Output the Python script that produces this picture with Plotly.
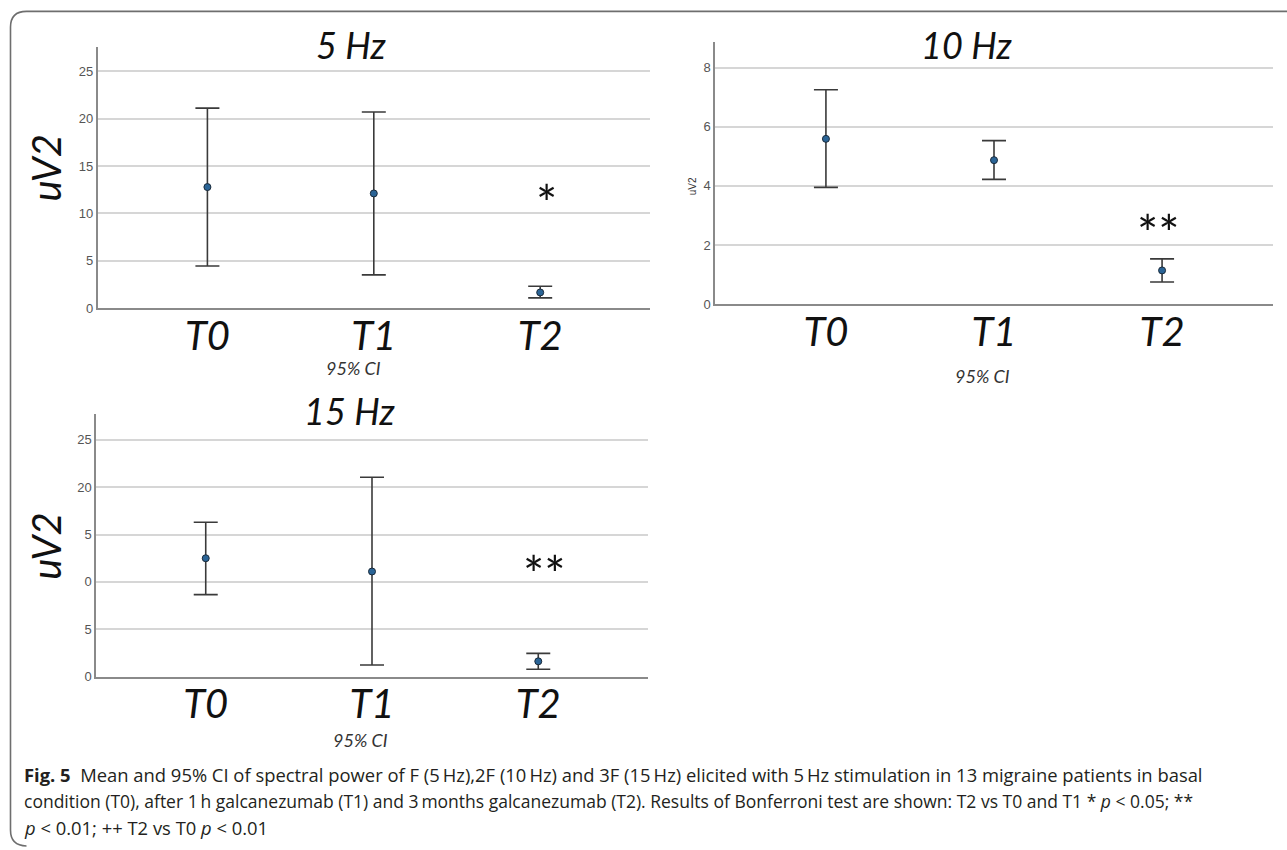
import plotly.graph_objects as go

W, H = 1287, 850

categories = ["T0", "T1", "T2"]

mean_5 = [12.77, 12.10, 1.65]
upper_5 = [21.10, 20.70, 2.30]
lower_5 = [4.44, 3.50, 1.08]

mean_10 = [5.59, 4.87, 1.14]
upper_10 = [7.25, 5.53, 1.53]
lower_10 = [3.95, 4.22, 0.75]

mean_15 = [12.50, 11.10, 1.61]
upper_15 = [16.30, 21.05, 2.45]
lower_15 = [8.66, 1.22, 0.77]

ticks_5 = [0, 5, 10, 15, 20, 25]
labels_5 = ["0", "5", "10", "15", "20", "25"]
ticks_10 = [0, 2, 4, 6, 8]
labels_10 = ["0", "2", "4", "6", "8"]
ticks_15 = [0, 5, 10, 15, 20, 25]
labels_15 = ["0", "5", "0", "5", "20", "25"]  # as printed (leading digits hidden)

sig_5 = "*"
sig_10 = "**"
sig_15 = "**"

caption_lines = [
    "<b>Fig. 5</b>  Mean and 95% CI of spectral power of F (5\u2009Hz),2F (10\u2009Hz) and 3F (15\u2009Hz) elicited with 5\u2009Hz stimulation in 13 migraine patients in basal",
    "condition (T0), after 1\u2009h galcanezumab (T1) and 3\u2009months galcanezumab (T2). Results of Bonferroni test are shown: T2 vs T0 and T1 * <i>p</i> < 0.05; **",
    "<i>p</i> < 0.01; ++ T2 vs T0 <i>p</i> < 0.01",
]
caption_sizes = [18.4, 17.5, 18.4]


def px(x):
    return x / W


def py(y):
    return 1 - y / H


CHART_FONT = "Lato"
TICK_FONT = "Liberation Sans Narrow, Liberation Sans, Arial"

fig = go.Figure()

panels = [
    ("x", "y", mean_5, upper_5, lower_5),
    ("x2", "y2", mean_10, upper_10, lower_10),
    ("x3", "y3", mean_15, upper_15, lower_15),
]
for xa, ya, m, u, l in panels:
    fig.add_trace(go.Scatter(
        x=categories, y=m, xaxis=xa, yaxis=ya, mode="markers",
        marker=dict(size=7, color="#2a6496", line=dict(color="#1a2a3a", width=1)),
        error_y=dict(type="data", symmetric=False,
                     array=[ui - mi for ui, mi in zip(u, m)],
                     arrayminus=[mi - li for mi, li in zip(m, l)],
                     color="#3a3a3a", thickness=1.6, width=12),
        showlegend=False, cliponaxis=False,
    ))

xcommon = dict(type="category", range=[-0.66, 2.66], showgrid=False, zeroline=False,
               showline=True, linecolor="#8a8a8a", linewidth=1.5, ticks="",
               ticklabelstandoff=-8,
               tickfont=dict(family=CHART_FONT, size=40, color="#111", style="italic"),
               fixedrange=True)
ycommon = dict(showgrid=True, gridcolor="#d6d6d6", gridwidth=1.5, zeroline=False,
               showline=True, linecolor="#8a8a8a", linewidth=1.5, ticks="",
               tickfont=dict(family=TICK_FONT, size=13, color="#555"),
               fixedrange=True)

fig.update_layout(
    width=W, height=H,
    margin=dict(l=0, r=0, t=0, b=0),
    paper_bgcolor="white", plot_bgcolor="white",
    xaxis=dict(xcommon, domain=[px(97.6), px(650)], anchor="y"),
    yaxis=dict(ycommon, domain=[py(311), py(47)], anchor="x", range=[0, 27.6],
               tickvals=ticks_5, ticktext=labels_5),
    xaxis2=dict(xcommon, domain=[px(715), px(1273)], anchor="y2"),
    yaxis2=dict(ycommon, domain=[py(307), py(42.3)], anchor="x2", range=[0, 8.87],
                tickvals=ticks_10, ticktext=labels_10),
    xaxis3=dict(xcommon, domain=[px(96), px(683.5 - 35.5)], anchor="y3"),
    yaxis3=dict(ycommon, domain=[py(683), py(418.3)], anchor="x3", range=[0, 27.7],
                tickvals=ticks_15, ticktext=labels_15),
)

ann = []


def text(x, y, s, size, family=CHART_FONT, italic=True, angle=0, color="#111",
         xanchor="center", yanchor="middle"):
    ann.append(dict(x=px(x), y=py(y), xref="paper", yref="paper", text=s,
                    showarrow=False, textangle=angle, xanchor=xanchor, yanchor=yanchor,
                    font=dict(family=family, size=size, color=color,
                              style="italic" if italic else "normal")))


# titles
text(351, 45, "5 Hz", 36)
text(966, 45, "10 Hz", 36)
text(349, 415, "15 Hz", 36)
# 95% CI
text(353, 372, "95% CI", 18, color="#333")
text(982, 380, "95% CI", 18, color="#333")
text(360, 747, "95% CI", 18, color="#333")
# y titles
text(46, 170, "uV2", 40, angle=-90)
text(46, 552, "uV2", 40, angle=-90)
text(692, 188, "uV2", 10, family="Liberation Sans", italic=False, angle=-90, color="#333")

# significance markers (data coordinates)
for xr, yr, xv, yv, s in [("x", "y", 2.04, 11.1, sig_5),
                          ("x2", "y2", 1.98, 2.4, sig_10),
                          ("x3", "y3", 2.04, 10.8, sig_15)]:
    ann.append(dict(x=xv, y=yv, xref=xr, yref=yr, text=s, showarrow=False,
                    xanchor="center", yanchor="middle",
                    font=dict(family=CHART_FONT, size=50, color="#111")))

# caption
for i, (line, sz) in enumerate(zip(caption_lines, caption_sizes)):
    ann.append(dict(x=px(22), y=py(782 + 26.5 * i), xref="paper", yref="paper",
                    text=line, showarrow=False, xanchor="left", yanchor="middle",
                    align="left",
                    font=dict(family="Open Sans", size=sz, color="#231f20")))

fig.update_layout(annotations=ann)

# frame with rounded left corners
r = 16
x0, y0, yb = 10.5, 11.5, 850 + 4
path = (f"M {px(W + 2)},{py(y0)} L {px(x0 + r)},{py(y0)} "
        f"Q {px(x0)},{py(y0)} {px(x0)},{py(y0 + r)} "
        f"L {px(x0)},{py(yb - r)} Q {px(x0)},{py(yb)} {px(x0 + r)},{py(yb)}")
fig.add_shape(type="path", path=path, xref="paper", yref="paper",
              line=dict(color="#6e6e6e", width=1.6))

fig.write_html("out.html", config={"displayModeBar": False},
               post_script="document.body.style.margin='0px';document.body.style.overflow='hidden';")
